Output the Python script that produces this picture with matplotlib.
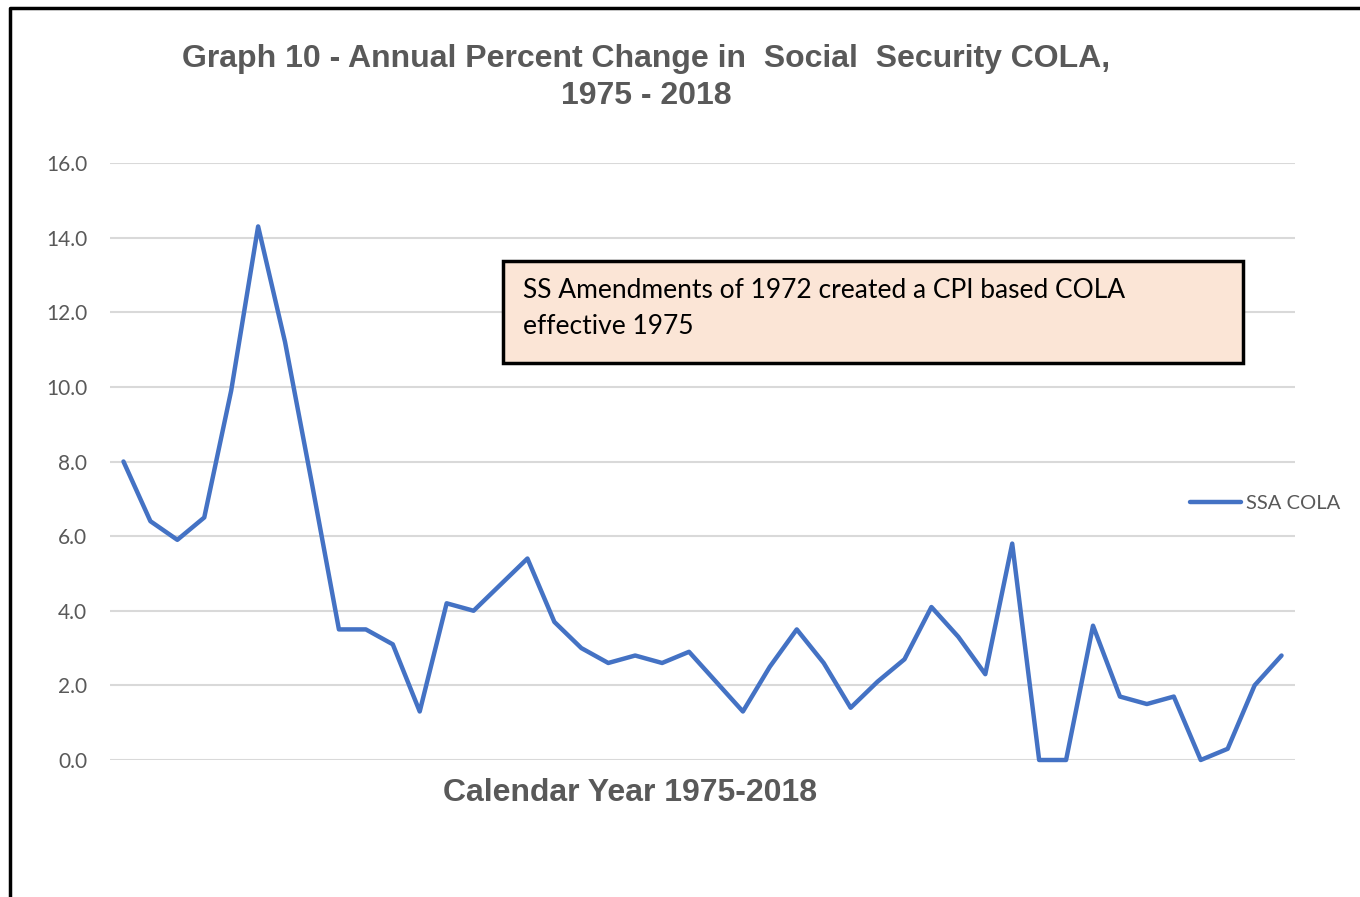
import matplotlib.pyplot as plt
from matplotlib.patches import Rectangle
from matplotlib.lines import Line2D

years = list(range(1975, 2019))
cola = [8.0, 6.4, 5.9, 6.5, 9.9, 14.3, 11.2, 7.4, 3.5, 3.5,
        3.1, 1.3, 4.2, 4.0, 4.7, 5.4, 3.7, 3.0, 2.6, 2.8,
        2.6, 2.9, 2.1, 1.3, 2.5, 3.5, 2.6, 1.4, 2.1, 2.7,
        4.1, 3.3, 2.3, 5.8, 0.0, 0.0, 3.6, 1.7, 1.5, 1.7,
        0.0, 0.3, 2.0, 2.8]
yticks = [0, 2, 4, 6, 8, 10, 12, 14, 16]

gray = '#595959'
blue = '#4472C4'
body_font = ['Lato', 'DejaVu Sans']
head_font = ['Liberation Sans', 'DejaVu Sans']

W, H = 1360, 897
fig = plt.figure(figsize=(W / 100, H / 100), dpi=100)

ax = fig.add_axes([110 / W, 1 - 760 / H, (1295 - 110) / W, (760 - 163) / H])
x = list(range(len(years)))
ax.plot(x, cola, color=blue, lw=3.2, solid_capstyle='round', solid_joinstyle='round',
        clip_on=False, zorder=3)
ax.set_xlim(-0.5, len(years) - 0.5)
ax.set_ylim(0, 16)
ax.set_yticks(yticks)
ax.set_yticklabels(['%.1f' % v for v in yticks], color=gray, fontsize=15, family=body_font)
ax.set_xticks([])
ax.tick_params(axis='y', length=0, pad=16.5)
ax.grid(axis='y', color='#D9D9D9', lw=1.5)
ax.set_axisbelow(True)
for s in ax.spines.values():
    s.set_visible(False)

# title and axis label
fig.text(646 / W, 1 - 59 / H, 'Graph 10 - Annual Percent Change in  Social  Security COLA,',
         ha='center', va='center', fontsize=23, fontweight='bold', color=gray, family=head_font)
fig.text(646 / W, 1 - 96 / H, '1975 - 2018',
         ha='center', va='center', fontsize=23, fontweight='bold', color=gray, family=head_font)
fig.text(630 / W, 1 - 793 / H, 'Calendar Year 1975-2018',
         ha='center', va='center', fontsize=23, fontweight='bold', color=gray, family=head_font)

# annotation box
fig.patches.append(Rectangle((503 / W, 1 - 363 / H), (1243 - 503) / W, (363 - 261) / H,
                             transform=fig.transFigure, facecolor='#FBE5D6',
                             edgecolor='black', lw=2.5))
fig.text(523 / W, 1 - 291 / H, 'SS Amendments of 1972 created a CPI based COLA',
         ha='left', va='center', fontsize=19, color='black', family=body_font)
fig.text(523 / W, 1 - 326 / H, 'effective 1975',
         ha='left', va='center', fontsize=19, color='black', family=body_font)

# legend
fig.lines.append(Line2D([1190 / W, 1241 / W], [1 - 502 / H, 1 - 502 / H], transform=fig.transFigure,
                        color=blue, lw=3.2, solid_capstyle='round'))
fig.text(1246 / W, 1 - 503 / H, 'SSA COLA', ha='left', va='center',
         fontsize=14.5, color=gray, family=body_font)

# outer frame (left and top edges visible)
fig.lines.append(Line2D([9.5 / W, 9.5 / W, 1.0], [0, 1 - 8 / H, 1 - 8 / H], transform=fig.transFigure,
                        color='black', lw=2.5))

fig.savefig('out.png', dpi=100)
